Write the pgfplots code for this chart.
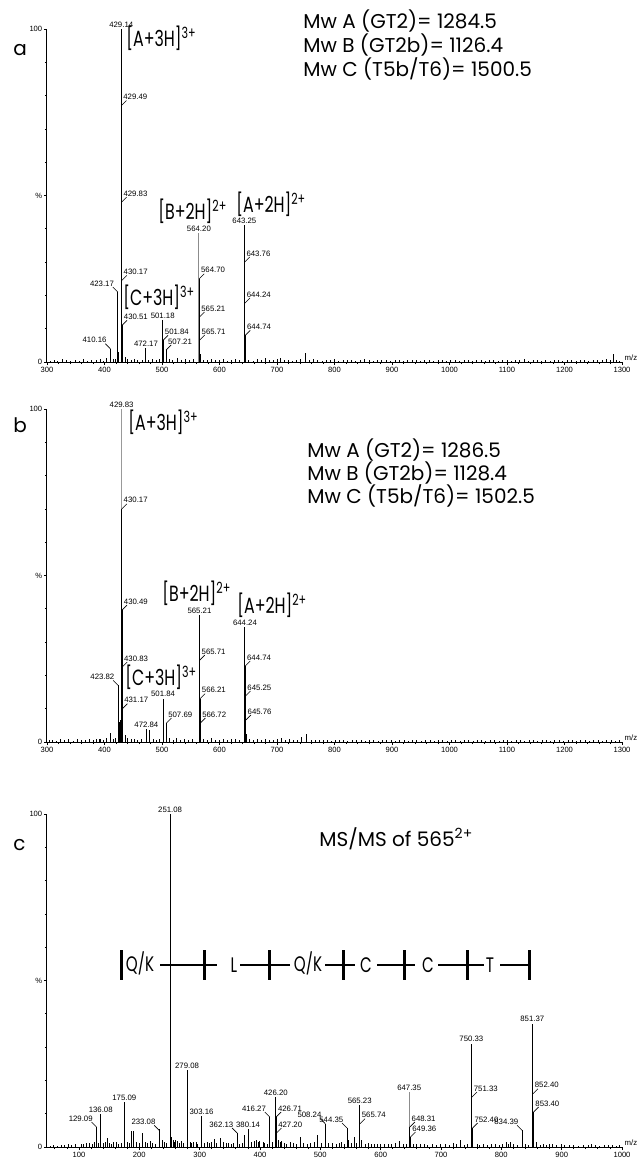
\documentclass[border=0pt]{standalone}
\usepackage{fontspec}
\setmainfont{Liberation Sans}
\newfontfamily\gothic{Poppins}
\newfontfamily\gothicN{Poppins}[FakeStretch=0.72]
\usepackage{pgfplots}
\pgfplotsset{compat=1.18}

% small peak labels
\tikzset{
  lbl/.style={font=\fontsize{3.9}{4.2}\selectfont, inner sep=0.3pt},
  ldr/.style={black, line width=0.3pt},
}
\newcommand{\pk}[3]{\node[lbl,anchor=south,yshift=0.4pt] at (axis cs:#1,#2) {#3};}
\newcommand{\pr}[3]{\draw[ldr] (axis cs:#1,#2) -- ++(2.5pt,2.5pt) node[lbl,anchor=south west,xshift=-2pt] {#3};}
\newcommand{\pl}[3]{\draw[ldr] (axis cs:#1,#2) -- ++(-2.5pt,2.5pt) node[lbl,anchor=south east,xshift=1pt] {#3};}
\newcommand{\ann}{\gothic\fontsize{10}{12}\selectfont}
\newcommand{\annB}{\gothicN\fontsize{11}{13}\selectfont}
\newcommand{\annS}{\gothicN\fontsize{10.5}{12}\selectfont}

\pgfplotsset{
  ms/.style={
    scale only axis, width=287.5pt, height=166.5pt,
    axis x line*=bottom, axis y line*=left,
    axis line style={-, line width=0.5pt},
    ymin=0, ymax=100,
    ytick={0,50,100}, yticklabels={0,\%,100},
    minor ytick={10,20,30,40,60,70,80,90},
    tick align=outside,
    major tick length=1.6pt, minor tick length=1.1pt,
    tick style={black, line width=0.4pt},
    /pgf/number format/assume math mode=true,
    /pgf/number format/1000 sep={},
    tick label style={font=\fontsize{3.8}{4}\selectfont, inner sep=0.6pt},
    clip=false, anchor=south west,
  },
  stick/.style={ycomb, mark=none, black, line width=0.5pt},
  noise/.style={ycomb, mark=none, black, line width=0.35pt},
}

\begin{document}
\begin{tikzpicture}
\useasboundingbox (0,0) rectangle (318.5pt,-579pt);

% ---------------- panel a ----------------
\begin{axis}[ms, at={(23.5pt,-181pt)},
  xmin=300, xmax=1300, xtick={300,400,...,1300}, minor xtick={300,320,...,1300}]
\addplot[noise] coordinates {
 (305,0.4)(312,0.6)(318,0.3)(326,0.8)(333,0.5)(341,0.3)(349,0.7)(356,0.4)(364,0.9)
 (371,0.3)(378,0.6)(385,0.5)(393,0.8)(398,0.4)(404,1.2)(415,0.8)(419,1.0)(436,1.5)
 (440,0.8)(446,0.6)(452,0.9)(458,0.5)(465,0.7)(477,0.6)(483,0.9)(490,0.5)(495,0.8)
 (512,1.0)(518,0.6)(526,1.2)(533,0.5)(540,0.8)(548,0.6)(555,0.9)(572,0.7)(578,0.5)
 (585,1.0)(592,0.6)(600,0.5)(607,0.8)(614,0.4)(621,0.7)(628,0.9)(635,0.6)(651,0.7)
 (658,0.4)(665,0.9)(672,0.5)(679,1.2)(686,0.6)(693,0.5)(700,0.8)(705,1.1)(712,0.5)
 (720,0.7)(727,0.4)(734,0.6)(741,0.8)(757,0.6)(764,0.9)(771,0.5)(778,0.4)(785,0.7)
 (792,0.5)(800,0.8)(807,0.4)(815,0.6)(822,0.5)(830,0.7)(837,0.4)(845,0.6)(852,0.8)
 (860,0.5)(867,0.4)(875,0.6)(882,0.5)(890,0.7)(897,0.4)(905,0.6)(912,0.5)(920,0.4)
 (927,0.6)(935,0.5)(942,0.7)(950,0.4)(957,0.5)(965,0.6)(972,0.4)(980,0.5)(987,0.7)
 (995,0.4)(1002,0.5)(1010,0.6)(1017,0.4)(1025,0.5)(1032,0.6)(1040,0.4)(1047,0.5)
 (1055,0.7)(1062,0.4)(1070,0.5)(1077,0.6)(1085,0.4)(1092,0.5)(1100,0.6)(1107,0.4)
 (1115,0.7)(1122,0.5)(1130,0.9)(1137,0.4)(1145,0.5)(1152,0.6)(1160,0.4)(1167,0.5)
 (1175,0.4)(1182,0.6)(1190,0.5)(1197,0.4)(1205,0.6)(1212,0.5)(1220,0.4)(1227,0.5)
 (1235,0.6)(1242,0.4)(1250,0.7)(1257,0.5)(1265,0.6)(1272,0.8)(1280,0.6)(1290,0.5)(1295,0.4)
};
\addplot[stick, black!45] coordinates {(564.20,38.7)};
\addplot[stick] coordinates {
 (410.16,4.0)(423.17,21)(424.2,3)(429.14,100)(429.49,77)(429.83,48)(430.17,32)
 (430.51,11)(430.85,5)(431.2,3)(472.17,4.2)(501.18,12.6)(501.84,6.5)(502.5,2.5)
 (507.21,3.6)(564.70,25)(565.21,13.5)(565.71,6.6)(566.2,2.5)
 (643.25,41)(643.76,30)(644.24,17.7)(644.74,8)(645.2,3)(750,2.7)(1285,2.4)
};
\pk{429.14}{100}{429.14}
\pr{429.49}{77}{429.49}
\pr{429.83}{48}{429.83}
\pr{430.17}{24.5}{430.17}
\pr{430.51}{11}{430.51}
\pl{423.17}{21}{423.17}
\pl{410.16}{4}{410.16}
\pk{472.17}{4.2}{472.17}
\pk{501.18}{12.6}{501.18}
\pr{501.84}{6.5}{501.84}
\pr{507.21}{3.6}{507.21}
\pk{564.20}{38.7}{564.20}
\pr{564.70}{25}{564.70}
\pr{565.21}{13.5}{565.21}
\pr{565.71}{6.6}{565.71}
\pk{643.25}{41}{643.25}
\pr{643.76}{30}{643.76}
\pr{644.24}{17.7}{644.24}
\pr{644.74}{8}{644.74}
\node[lbl, anchor=south west, xshift=0.8pt, yshift=0.3pt] at (rel axis cs:1,0) {m/z};
\end{axis}

% ---------------- panel b ----------------
\begin{axis}[ms, at={(23.5pt,-371pt)},
  xmin=300, xmax=1300, xtick={300,400,...,1300}, minor xtick={300,320,...,1300}]
\addplot[noise] coordinates {
 (304,0.5)(310,0.7)(317,0.4)(323,0.9)(331,0.5)(338,0.8)(345,0.4)(352,1.0)(359,0.6)
 (366,0.5)(373,0.8)(380,0.6)(386,0.9)(392,1.0)(398,0.5)(404,1.3)(415,0.9)(419,1.1)
 (436,1.6)(440,1.2)(446,0.8)(452,1.0)(458,0.6)(464,0.9)(485,0.8)(490,0.6)(495,0.9)
 (513,1.1)(519,0.7)(525,1.3)(532,0.6)(539,0.9)(546,0.7)(553,1.0)(572,0.8)(578,0.6)
 (586,1.1)(593,0.7)(600,0.6)(607,0.9)(614,0.5)(621,0.8)(628,1.0)(635,0.7)(652,0.8)
 (659,0.5)(666,1.0)(672,0.6)(679,1.0)(686,0.7)(693,0.6)(700,0.9)(708,1.2)(714,0.6)
 (721,0.8)(728,0.5)(735,0.7)(760,0.7)(766,0.5)(773,0.6)(780,0.5)(787,0.7)(794,0.4)
 (801,0.6)(808,0.5)(816,0.7)(823,0.4)(831,0.6)(838,0.5)(846,0.7)(853,0.4)(861,0.6)
 (868,0.5)(876,0.4)(883,0.6)(891,0.5)(898,0.7)(906,0.4)(913,0.5)(921,0.6)(928,0.4)
 (936,0.6)(943,0.5)(951,0.4)(958,0.6)(966,0.5)(973,0.4)(981,0.6)(988,0.5)(996,0.4)
 (1003,0.6)(1011,0.5)(1018,0.4)(1026,0.6)(1033,0.5)(1041,0.4)(1048,0.6)(1056,0.5)
 (1063,0.4)(1071,0.6)(1078,0.5)(1086,0.4)(1093,0.6)(1101,0.7)(1108,0.4)(1116,0.5)
 (1123,0.6)(1131,0.4)(1138,0.5)(1146,0.6)(1153,0.4)(1161,0.5)(1168,0.6)(1176,0.4)
 (1183,0.5)(1191,0.6)(1198,0.4)(1206,0.5)(1213,0.6)(1221,0.4)(1228,0.5)(1236,0.6)
 (1243,0.4)(1251,0.5)(1258,0.6)(1266,0.4)(1273,0.5)(1281,0.6)(1288,0.4)(1296,0.5)
};
\addplot[stick, black!40] coordinates {(429.83,100)};
\addplot[stick] coordinates {
 (392,1.0)(410,2.7)(423.82,17)(425.5,6)(427,6.6)(430.17,70)(430.49,39.6)(430.83,22.5)
 (431.17,10)(431.5,4)(436,2)(472.84,3.9)(479,3.5)(501.84,13)(507.69,5.7)(508.2,3)
 (565.21,38)(565.71,24.6)(566.21,13)(566.72,5.7)(567.2,2)
 (644.24,34.5)(644.74,22.8)(645.25,13.8)(645.76,6.6)(646.3,2.5)(743,1.5)(752,2.4)
};
\pk{429.83}{100}{429.83}
\pr{430.17}{70}{430.17}
\pr{430.49}{39.6}{430.49}
\pr{430.83}{22.5}{430.83}
\pr{431.17}{10}{431.17}
\pl{423.82}{17}{423.82}
\pk{472.84}{3.9}{472.84}
\pk{501.84}{13}{501.84}
\pr{507.69}{5.7}{507.69}
\pk{565.21}{38}{565.21}
\pr{565.71}{24.6}{565.71}
\pr{566.21}{13}{566.21}
\pr{566.72}{5.7}{566.72}
\pk{644.24}{34.5}{644.24}
\pr{644.74}{22.8}{644.74}
\pr{645.25}{13.8}{645.25}
\pr{645.76}{6.6}{645.76}
\node[lbl, anchor=south west, xshift=0.8pt, yshift=0.3pt] at (rel axis cs:1,0) {m/z};
\end{axis}

% ---------------- panel c ----------------
\begin{axis}[ms, at={(23.5pt,-573.5pt)},
  xmin=47, xmax=1000, xtick={100,200,...,1000}, minor xtick={60,80,...,1000}]
\addplot[noise] coordinates {
 (52,0.4)(58,0.6)(64,0.3)(70,0.7)(76,0.5)(82,0.8)(88,0.6)(94,0.9)(104,0.8)(108,1.0)
 (118,1.2)(122,0.9)(126,1.4)(132,1.1)(141,1.3)(144,1.6)(151,1.2)(154,0.9)(162,1.5)
 (166,1.0)(170,1.3)(180,1.4)(184,1.1)(195,1.6)(200,1.2)(210,1.5)(214,1.1)(218,1.8)
 (222,1.3)(226,1.0)(241,1.6)(245,1.2)(256,2.0)(258,1.4)(263,1.7)(266,1.2)(270,1.9)
 (273,1.3)(284,1.5)(287,1.1)(294,1.4)(297,1.0)(308,1.3)(312,1.6)(316,1.1)(320,1.4)
 (328,1.2)(340,1.5)(344,1.1)(348,1.3)(352,0.9)(356,1.2)(366,1.0)(370,1.3)(386,1.4)
 (390,1.7)(398,1.5)(408,1.2)(412,1.0)(420,1.4)(433,1.6)(440,1.3)(444,1.0)(455,1.2)
 (460,1.0)(472,1.3)(478,1.0)(484,1.2)(490,1.4)(502,1.1)(513,1.3)(526,1.0)(531,1.2)
 (540,1.0)(551,1.3)(560,1.1)(574,1.0)(580,1.2)(585,0.9)(595,1.0)(606,0.8)(612,1.0)
 (618,0.8)(624,1.1)(638,0.8)(643,1.0)(654,0.9)(665,0.8)(672,1.0)(678,0.7)(685,0.9)
 (692,0.7)(708,0.8)(714,0.6)(726,0.9)(738,0.7)(744,0.8)(764,0.7)(770,0.9)(776,0.6)
 (783,0.8)(796,0.7)(802,1.0)(812,0.8)(820,0.9)(826,0.7)(840,0.8)(845,0.6)(864,0.7)
 (874,0.6)(885,0.8)(892,0.5)(905,0.6)(912,0.5)(920,0.6)(928,0.4)(936,0.6)(944,0.5)
 (956,0.6)(962,0.4)(970,0.5)(978,0.6)(990,0.4)(996,0.5)
};
\addplot[stick, black!45] coordinates {(647.35,16.5)};
\addplot[stick] coordinates {
 (113,1.3)(129.09,6)(136.08,9.9)(147,2.7)(158,1.5)(175.09,13.5)(176,3)(187,4.8)
 (190,4.8)(205,4.2)(233.08,5)(234,5.3)(238,2)(251.08,100)(252.1,18.6)(254,3)
 (260,2)(279.08,23)(280.1,4.3)(290,1.5)(303.16,9.3)(324,2.3)(335,2.6)(362.13,4.2)
 (375,3.6)(380.14,5.4)(395,2.2)(400,1.8)(405,1.5)(416.27,9)(426.20,15)(426.71,9)
 (427.20,4.2)(430,2)(436,1.8)(450,1.5)(467,3)(496,3.6)(508.24,7)(520,1.2)(535,1.5)
 (544.35,5.7)(547,2.2)(556,3)(565.23,12.6)(565.74,7)(568,2)(590,1)(600,1)(632,1.8)
 (648.31,6)(649.36,3)(660,1)(700,1)(720,1.2)(732,2.2)(750.33,31)(751.33,15)
 (752.40,5.7)(760,1)(790,1)(808,1.5)(816,1.6)(834.39,5)(851.37,37)(852.40,16)
 (853.40,10.5)(858,1.5)(870,1)(880,1)(900,0.8)(950,0.8)(985,0.7)
};
\pk{251.08}{100}{251.08}
\pk{279.08}{23}{279.08}
\pk{175.09}{13.5}{175.09}
\pk{136.08}{9.9}{136.08}
\pl{129.09}{6}{129.09}
\pl{233.08}{5}{233.08}
\pk{303.16}{9.3}{303.16}
\pl{362.13}{4.2}{362.13}
\pk{380.14}{5.4}{380.14}
\pl{416.27}{9}{416.27}
\pk{426.20}{15}{426.20}
\pr{426.71}{9}{426.71}
\pr{427.20}{4.2}{427.20}
\pl{508.24}{7}{508.24}
\pl{544.35}{5.7}{544.35}
\pk{565.23}{12.6}{565.23}
\pr{565.74}{7}{565.74}
\pk{647.35}{16.5}{647.35}
\pr{648.31}{6}{648.31}
\pr{649.36}{3}{649.36}
\pk{750.33}{31}{750.33}
\pr{751.33}{15}{751.33}
\pr{752.40}{5.7}{752.40}
\pl{834.39}{5}{834.39}
\pk{851.37}{37}{851.37}
\pr{852.40}{16}{852.40}
\pr{853.40}{10.5}{853.40}
\node[lbl, anchor=south west, xshift=0.8pt, yshift=0.3pt] at (rel axis cs:1,0) {m/z};
\end{axis}

% ---------------- annotations (pixel grid) ----------------
\begin{scope}[x=0.5pt, y=-0.5pt, every node/.style={inner sep=0pt, anchor=base west}]
% panel a
\node[font=\ann] at (13,55) {a};
\node[font=\ann] at (303,28) {Mw A (GT2)= 1284.5};
\node[font=\ann] at (303,52) {Mw B (GT2b)= 1126.4};
\node[font=\ann] at (303,76) {Mw C (T5b/T6)= 1500.5};
\node[font=\annB] at (126,46) {[A+3H]\textsuperscript{3+}};
\node[font=\annB] at (158,219) {[B+2H]\textsuperscript{2+}};
\node[font=\annB] at (236,212) {[A+2H]\textsuperscript{2+}};
\node[font=\annB] at (123,305) {[C+3H]\textsuperscript{3+}};
% panel b
\node[font=\ann] at (13,432) {b};
\node[font=\ann] at (307,457) {Mw A (GT2)= 1286.5};
\node[font=\ann] at (307,480) {Mw B (GT2b)= 1128.4};
\node[font=\ann] at (307,503) {Mw C (T5b/T6)= 1502.5};
\node[font=\annB] at (128,430) {[A+3H]\textsuperscript{3+}};
\node[font=\annB] at (162,601) {[B+2H]\textsuperscript{2+}};
\node[font=\annB] at (237,613) {[A+2H]\textsuperscript{2+}};
\node[font=\annB] at (125,685) {[C+3H]\textsuperscript{3+}};
% panel c
\node[font=\ann] at (13,850) {c};
\node[font=\ann] at (319,846) {MS/MS of 565\textsuperscript{2+}};
\foreach \bx in {121,204,269,343,404,467,529}
  \draw[line width=1.5pt] (\bx,950) -- (\bx,980);
\draw[line width=0.6pt] (160,965) -- (217,965);
\draw[line width=0.6pt] (240,965) -- (290,965);
\draw[line width=0.6pt] (325,965) -- (355,965);
\draw[line width=0.6pt] (377,965) -- (415,965);
\draw[line width=0.6pt] (438,965) -- (484,965);
\draw[line width=0.6pt] (500,965) -- (529,965);
\node[font=\annS, anchor=base] at (140,971) {Q/K};
\node[font=\annS, anchor=base] at (234,972) {L};
\node[font=\annS, anchor=base] at (308,971) {Q/K};
\node[font=\annS, anchor=base] at (366,972) {C};
\node[font=\annS, anchor=base] at (428,972) {C};
\node[font=\annS, anchor=base] at (490,972) {T};
\end{scope}
\end{tikzpicture}
\end{document}
